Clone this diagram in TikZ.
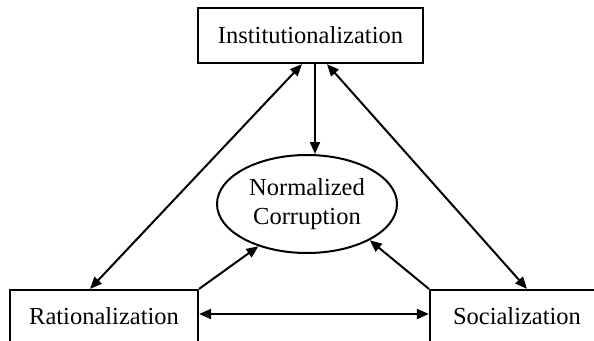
\documentclass[tikz,border=0pt]{standalone}
\usepackage{fontspec}
\setmainfont{Liberation Serif}
\usetikzlibrary{arrows.meta,shapes.geometric}
\begin{document}
\begin{tikzpicture}[x=1pt,y=-1pt,
  every node/.style={font=\fontsize{24.5}{29}\selectfont},
  box/.style={draw,line width=2.2pt,inner sep=0pt},
  oval/.style={draw,ellipse,line width=2pt,inner sep=0pt,align=center,
    minimum width=180pt,minimum height=98pt},
  link/.style={line width=2pt,-{Triangle[length=12pt,width=10pt]}},
  twoway/.style={line width=2pt,{Triangle[length=12pt,width=10pt]}-{Triangle[length=12pt,width=10pt]}}]
\useasboundingbox (0,0) rectangle (594,340);
\node[box,minimum width=225pt,minimum height=55pt] (inst) at (310.5,35.5) {Institutionalization};
\node[box,minimum width=188pt,minimum height=52pt] (rat) at (104,316) {Rationalization};
\node[box,minimum width=174pt,minimum height=52pt] (soc) at (517,316) {Socialization};
\node[oval] (corr) at (307,204) {Normalized\\Corruption};
\draw[link] ([xshift=4.5pt]inst.south) -- ([xshift=4.5pt]inst.south |- corr.north);
\draw[twoway] ([xshift=-8.5pt]inst.south) -- ([xshift=-14pt]rat.north);
\draw[twoway] ([xshift=16.5pt]inst.south) -- ([xshift=10pt]soc.north);
\draw[twoway] ([yshift=2pt]rat.east) -- ([yshift=2pt]soc.west);
\draw[link] (rat.north east) -- (corr.221);
\draw[link] (soc.north west) -- (corr.330);
\end{tikzpicture}
\end{document}
